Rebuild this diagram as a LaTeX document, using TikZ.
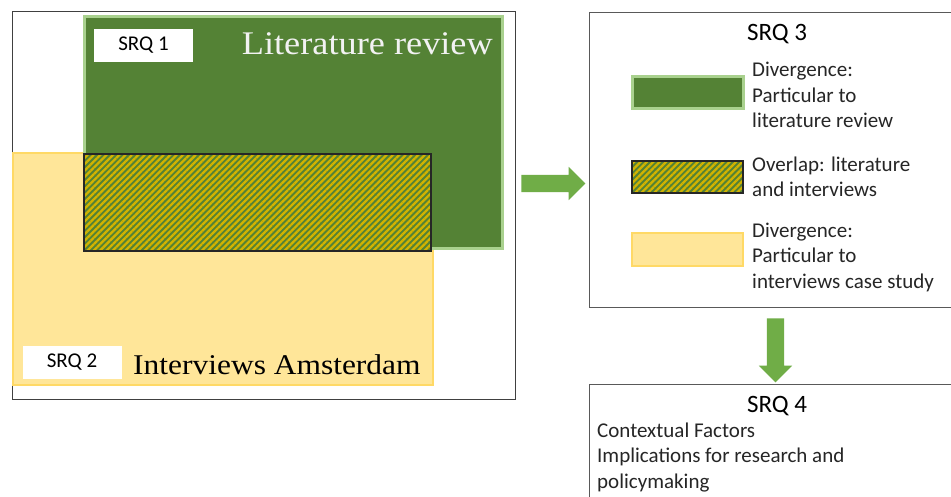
\documentclass[tikz,border=0pt]{standalone}
\usepackage{fontspec}
\setmainfont{Carlito}
\newfontfamily\serifwide[FakeStretch=1.1]{Liberation Serif}
\usetikzlibrary{patterns.meta,shapes.arrows}

\definecolor{litgreen}{HTML}{548235}
\definecolor{litedge}{HTML}{A9D18E}
\definecolor{intyellow}{HTML}{FFE699}
\definecolor{intedge}{HTML}{FFD966}
\definecolor{stripe}{HTML}{D2B300}
\definecolor{arrowgreen}{HTML}{70AD47}
\definecolor{frame}{HTML}{595959}
\definecolor{darkframe}{HTML}{404040}
\definecolor{ink}{HTML}{262626}

\tikzset{
  panel/.style={rectangle, draw=frame, line width=1.3pt, fill=white, inner sep=0pt},
  litbox/.style={rectangle, fill=litgreen, draw=litedge, line width=3pt, inner sep=0pt},
  intbox/.style={rectangle, fill=intyellow, draw=intedge, line width=2pt, inner sep=0pt},
  overlapbox/.style={rectangle, draw=black!85, line width=1.6pt, inner sep=0pt,
    preaction={fill=litgreen},
    preaction={pattern={Lines[angle=45,distance=4.5pt,line width=2.3pt]}, pattern color=stripe}},
  tag/.style={rectangle, fill=white, inner sep=0pt, text=black,
    minimum width=99pt, minimum height=33pt, font=\fontsize{21}{25}\selectfont},
  bigtitle/.style={inner sep=0pt, font=\serifwide\fontsize{33}{40}\selectfont},
  srqtitle/.style={inner sep=0pt, anchor=base, text=black, font=\fontsize{25}{30}\selectfont},
  % multi-line texts: the base anchor sits on the last line
  body/.style={inner sep=0pt, anchor=base west, align=left, text=ink,
    font=\fontsize{21}{25.5}\selectfont},
  flow/.style={single arrow, fill=arrowgreen, draw=none, minimum height=64pt,
    inner xsep=0pt, inner ysep=8.5pt, single arrow head extend=8pt},
}

\begin{document}
\begin{tikzpicture}[x=1pt,y=-1pt]
  \clip (0,0) rectangle (951,497);
  \fill[white] (0,0) rectangle (951,497);

  % left panel: literature review and interviews
  \node[panel, draw=darkframe, anchor=north west, minimum width=503pt, minimum height=388pt] (left) at (12,11) {};
  \node[intbox, minimum width=420pt, minimum height=232pt] (interviews) at (223,269) {};
  \node[litbox, minimum width=418pt, minimum height=232pt] (literature) at (293,133) {};
  \node[overlapbox, minimum width=347pt, minimum height=97pt] (overlap) at (257.5,202.5) {};

  \node[tag] (srq1) at (143.5,45.5) {SRQ 1};
  \node[tag] (srq2) at (72,362.5) {SRQ 2};
  \node[bigtitle, anchor=base east, text=white!95!black] (littitle) at (493,55) {Literature review};
  \node[bigtitle, anchor=base west, text=black, font=\serifwide\fontsize{28.6}{35}\selectfont] (inttitle) at (133,374) {Interviews Amsterdam};

  % SRQ 3 legend panel
  \node[panel, anchor=north west, minimum width=380pt, minimum height=295pt] (srq3) at (589,12) {};
  \node[srqtitle] (srq3title) at (777,41) {SRQ 3};
  \node[litbox, minimum width=111pt, minimum height=32pt] (keylit) at (687.5,93) {};
  \node[overlapbox, minimum width=111pt, minimum height=32pt] (keyoverlap) at (687.5,177) {};
  \node[intbox, minimum width=111pt, minimum height=33pt] (keyint) at (687.5,249.5) {};
  \node[body] (txtlit) at (752,128) {Divergence:\\Particular to\\literature review};
  \node[body] (txtoverlap) at (752,197) {Overlap: literature\\and interviews};
  \node[body] (txtint) at (752,288) {Divergence:\\Particular to\\interviews case study};

  % SRQ 4 panel
  \node[panel, anchor=north west, minimum width=380pt, minimum height=130pt] (srq4) at (589,384) {};
  \node[srqtitle] (srq4title) at (777,412) {SRQ 4};
  \node[body] (txtsrq4) at (597,488) {Contextual Factors\\Implications for research and\\policymaking};

  % block arrows between the panels
  \node[flow] (toright) at (549,183.5) {};
  \node[flow, rotate=-90] (todown) at (775.5,346) {};
\end{tikzpicture}
\end{document}
